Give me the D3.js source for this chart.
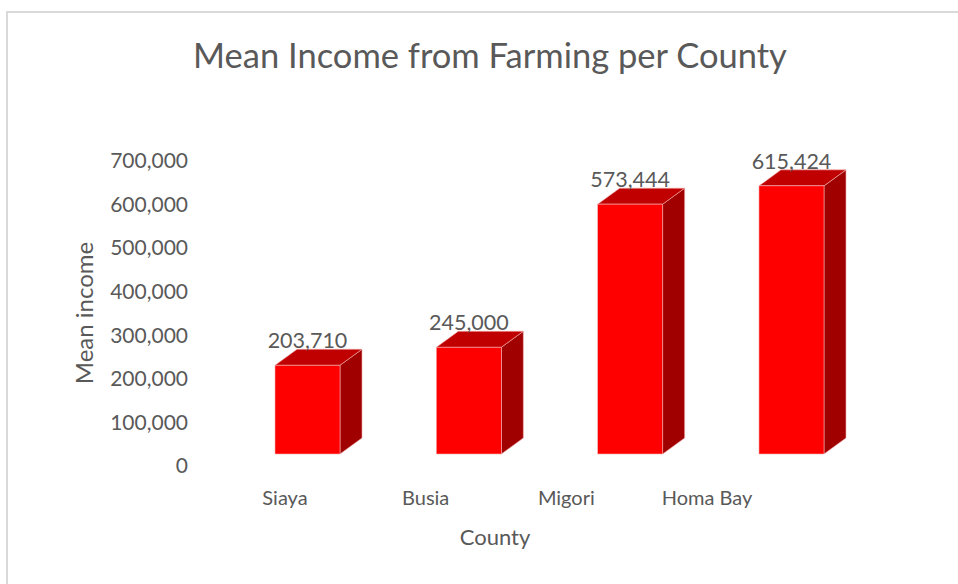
<!DOCTYPE html>
<html><head><meta charset="utf-8">
<script src="https://cdn.jsdelivr.net/npm/d3@7"></script>
<style>body{margin:0;background:#fff}svg{display:block}</style>
</head><body>
<svg id="c" width="958" height="584"></svg>
<script>
const counties = ["Siaya", "Busia", "Migori", "Homa Bay"];
const meanIncome = [203710, 245000, 573444, 615424];
const yTicks = [0, 100000, 200000, 300000, 400000, 500000, 600000, 700000];

const svg = d3.select("#c");
const FONT = "Lato, 'Open Sans', sans-serif";
const TXT = "#595959";

svg.append("rect").attr("width", 958).attr("height", 584).attr("fill", "#fff");
svg.append("path").attr("d", "M7,584V12H958").attr("fill", "none")
  .attr("stroke", "#D9D9D9").attr("stroke-width", 2);

const y = d3.scaleLinear().domain([0, 700000]).range([466, 161]);
const x = d3.scaleBand().domain(counties).range([275, 824]).paddingInner(0.597).paddingOuter(0);
const xl = d3.scalePoint().domain(counties).range([285, 707]);
const frontOff = -12, dx = 22, dy = -16;

svg.append("text").attr("x", 490).attr("y", 68).attr("text-anchor", "middle")
  .attr("font-family", FONT).attr("font-size", 34.5).attr("fill", TXT)
  .text("Mean Income from Farming per County");

const fmt = d3.format(",");
svg.append("g").selectAll("text").data(yTicks).join("text")
  .attr("x", 188).attr("y", d => y(d)).attr("dy", "0.35em").attr("text-anchor", "end")
  .attr("font-family", FONT).attr("font-size", 21).attr("fill", TXT).text(d => fmt(d));

svg.append("text").attr("transform", "translate(93,313) rotate(-90)").attr("text-anchor", "middle")
  .attr("font-family", FONT).attr("font-size", 24).attr("fill", TXT).text("Mean income");

const data = counties.map((c, i) => ({c, v: meanIncome[i]}));
const bars = svg.append("g").selectAll("g").data(data).join("g");
bars.each(function(d) {
  const g = d3.select(this);
  const x0 = x(d.c), w = x.bandwidth();
  const yb = y(0) + frontOff, yt = y(d.v) + frontOff;
  g.append("path").attr("d", `M${x0+w},${yb}L${x0+w+dx},${yb+dy}L${x0+w+dx},${yt+dy}L${x0+w},${yt}Z`)
    .attr("fill", "#A00000").attr("stroke", "#F4B0B0").attr("stroke-width", 0.6);
  g.append("path").attr("d", `M${x0},${yt}L${x0+dx},${yt+dy}L${x0+w+dx},${yt+dy}L${x0+w},${yt}Z`)
    .attr("fill", "#C00000").attr("stroke", "#F4B0B0").attr("stroke-width", 0.6);
  g.append("rect").attr("x", x0).attr("y", yt).attr("width", w).attr("height", yb - yt)
    .attr("fill", "#FF0000").attr("stroke", "#F4B0B0").attr("stroke-width", 0.6);
  g.append("text").attr("x", x0 + w / 2).attr("y", yt + dy - 1).attr("text-anchor", "middle")
    .attr("font-family", FONT).attr("font-size", 21.5).attr("fill", TXT).text(fmt(d.v));
});

svg.append("g").selectAll("text").data(counties).join("text")
  .attr("x", d => xl(d)).attr("y", 505).attr("text-anchor", "middle")
  .attr("font-family", FONT).attr("font-size", 20).attr("fill", TXT).text(d => d);

svg.append("text").attr("x", 495).attr("y", 545).attr("text-anchor", "middle")
  .attr("font-family", FONT).attr("font-size", 22).attr("fill", TXT).text("County");
</script>
</body></html>
